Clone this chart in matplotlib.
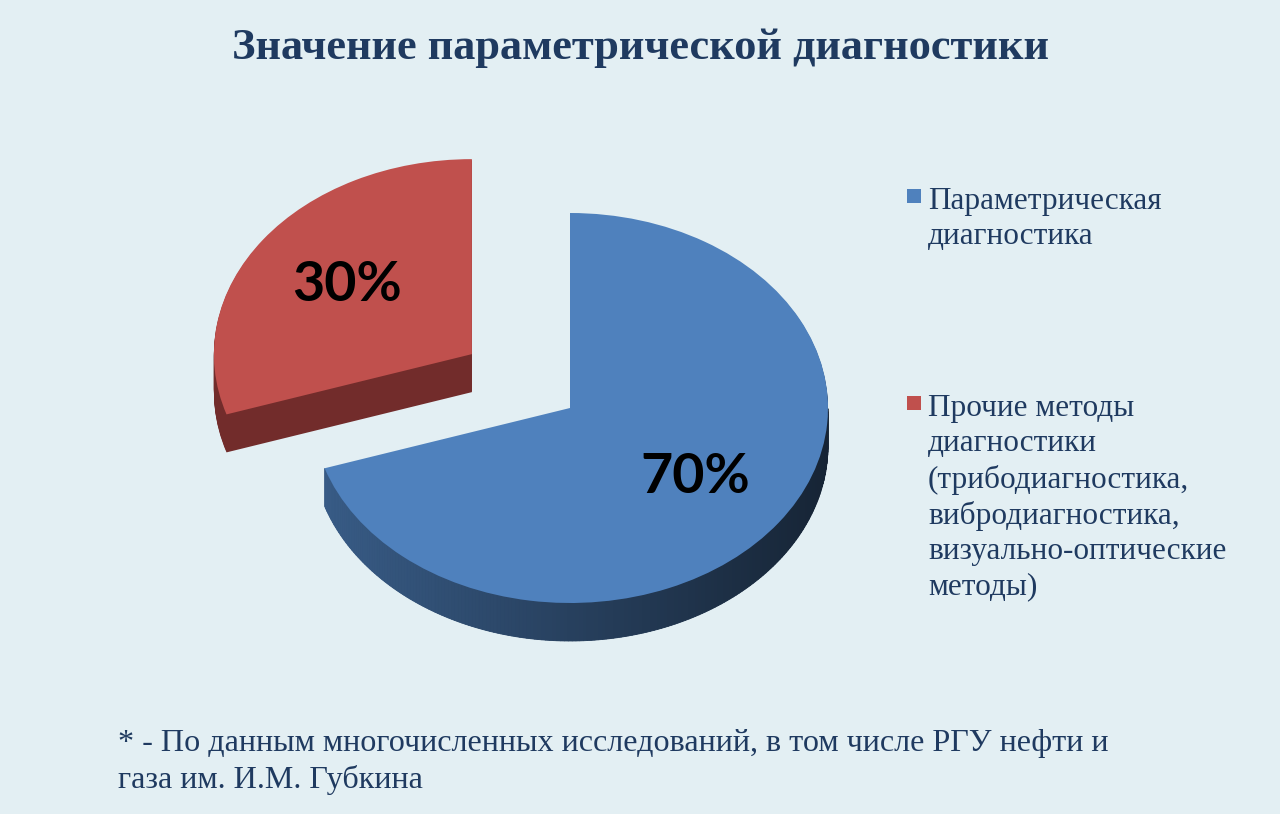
import matplotlib
matplotlib.use("Agg")
import matplotlib.pyplot as plt
import numpy as np
from matplotlib.patches import Polygon, Rectangle

title = "Значение параметрической диагностики"
categories = ["Параметрическая\nдиагностика",
              "Прочие методы\nдиагностики\n(трибодиагностика,\nвибродиагностика,\n"
              "визуально-оптические\nметоды)"]
values = [70, 30]
explode = [0, 0.47]
note = ("* - По данным многочисленных исследований, в том числе РГУ нефти и\n"
        "газа им. И.М. Губкина")

bg = "#e3eff3"
top_colors = ["#4f81bd", "#c0504d"]
side_colors = ["#2a4466", "#722c2b"]
text_color = "#1f3a60"

W, H = 1280, 814
fig = plt.figure(figsize=(W / 100, H / 100), dpi=100, facecolor=bg)
ax = fig.add_axes([0, 0, 1, 1])
ax.set_facecolor(bg)

# pie geometry in pixels: centre, radii and thickness
cx, cy, rx, ry, depth = 570, 408, 258, 195, 38
dz = depth / ry

# side walls: stack of shifted pies
for k in np.linspace(dz, 0.005, 40):
    ax.pie(values, colors=side_colors, startangle=90, counterclock=False,
           explode=explode, center=(0, -k),
           wedgeprops=dict(linewidth=0, zorder=1))

# top faces
wedges, _, pcts = ax.pie(values, colors=top_colors, startangle=90, counterclock=False,
                         explode=explode, autopct="%d%%", pctdistance=0.6,
                         wedgeprops=dict(linewidth=0, zorder=3),
                         textprops=dict(fontsize=40, fontweight="bold",
                                        family="Lato", color="black"))
for t in pcts:
    t.set_zorder(4)

# shaded outer wall of the blue slice
w = wedges[0]
c0 = np.array(matplotlib.colors.to_rgb(top_colors[0]))
ts = np.linspace(w.theta1, w.theta2, 300)
for a, b in zip(ts[:-1], ts[1:]):
    if np.sin(np.radians((a + b) / 2)) >= 0:
        continue
    xa, ya = w.center[0] + np.cos(np.radians(a)), w.center[1] + np.sin(np.radians(a))
    xb, yb = w.center[0] + np.cos(np.radians(b)), w.center[1] + np.sin(np.radians(b))
    f = 0.5 - 0.22 * np.cos(np.radians((a + b) / 2))
    ax.add_patch(Polygon([(xa, ya), (xb, yb), (xb, yb - dz), (xa, ya - dz)],
                         closed=True, facecolor=c0 * f, edgecolor=c0 * f,
                         linewidth=0.6, zorder=2))

ax.set_aspect("auto")
ax.set_xlim(-cx / rx, (W - cx) / rx)
ax.set_ylim((cy - H) / ry, cy / ry)
ax.axis("off")


def fit_width(t, target):
    r = fig.canvas.get_renderer()
    for _ in range(3):
        w_px = t.get_window_extent(r).width
        t.set_fontsize(t.get_fontsize() * target / w_px)


tt = fig.text(0.5, 1 - 48 / H, title, ha="center", va="center", fontsize=34,
              fontweight="bold", family="Liberation Serif", color=text_color)
fit_width(tt, 816)

# legend
y = 187
for lab, col in zip(categories, top_colors):
    fig.text(928 / W, 1 - y / H, lab, ha="left", va="top", fontsize=22.5,
             family="Liberation Serif", color=text_color, linespacing=1.28)
    fig.patches.append(Rectangle((907 / W, 1 - 203 / H - (y - 187) / H), 14 / W, 14 / H,
                                 transform=fig.transFigure, facecolor=col,
                                 edgecolor="none", figure=fig))
    y += 207

nt = fig.text(118 / W, 1 - 729 / H, note, ha="left", va="top", fontsize=20,
              family="Liberation Serif", color=text_color, linespacing=1.3)
fit_width(nt, 990)

fig.savefig("out.png", dpi=100, facecolor=bg)
